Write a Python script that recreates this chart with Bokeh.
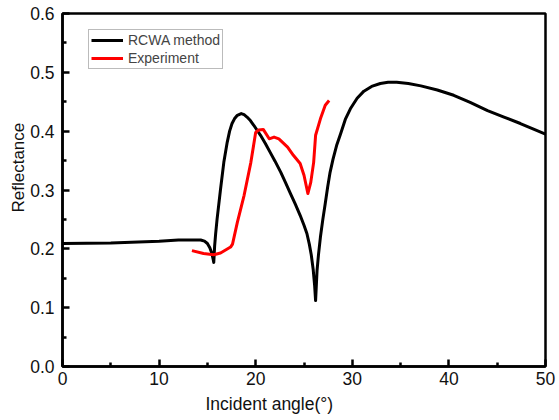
from bokeh.plotting import figure
from bokeh.models import (Legend, LegendItem, Title, FixedTicker,
                          PrintfTickFormatter, Range1d)
from bokeh.embed import file_html
from bokeh.resources import INLINE

# RCWA simulation: reflectance vs incident angle (degrees)
rcwa_angle = [0, 5, 10, 12, 14, 14.3, 14.7, 15.0, 15.25, 15.45, 15.6, 15.66,
              15.75, 15.85, 16.0, 16.35, 16.7, 17.05, 17.3, 17.55, 17.8, 18.1,
              18.5, 18.8, 19.1, 19.45, 19.8, 20.5, 21.0, 21.5, 22.0, 22.6,
              23.1, 23.6, 24.1, 24.6, 25.0, 25.3, 25.55, 25.75, 25.95, 26.1,
              26.2, 26.35, 26.5, 26.7, 26.95, 27.2, 27.45, 27.7, 28.0, 28.4,
              28.8, 29.3, 29.8, 30.5, 31.2, 32.0, 32.9, 33.7, 34.6, 35.8,
              37.1, 38.8, 40.5, 42.2, 44.0, 45.7, 47.4, 48.7, 50.0]
rcwa_refl = [0.209, 0.210, 0.213, 0.215, 0.215, 0.215, 0.213, 0.209, 0.202, 0.193, 0.182, 0.177,
             0.205, 0.225, 0.250, 0.300, 0.347, 0.381, 0.400, 0.413, 0.421, 0.427,
             0.430, 0.428, 0.424, 0.418, 0.410, 0.393, 0.379, 0.364, 0.349, 0.330,
             0.312, 0.294, 0.276, 0.257, 0.240, 0.226, 0.208, 0.190, 0.165, 0.138,
             0.112, 0.163, 0.190, 0.220, 0.250, 0.277, 0.305, 0.330, 0.352, 0.377,
             0.396, 0.421, 0.438, 0.456, 0.468, 0.476, 0.481, 0.483, 0.483, 0.481,
             0.477, 0.470, 0.461, 0.449, 0.435, 0.424, 0.413, 0.404, 0.395]

# Measured reflectance
exp_angle = [13.4, 14.6, 15.66, 16.36, 17.4, 17.6, 18.1, 18.8, 19.5, 20.0,
             20.3, 20.78, 21.4, 21.9, 22.4, 23.3, 23.9, 24.6, 25.0, 25.4,
             25.7, 26.0, 26.2, 26.7, 27.2, 27.6]
exp_refl = [0.197, 0.192, 0.190, 0.193, 0.203, 0.208, 0.245, 0.291, 0.347, 0.398,
            0.402, 0.403, 0.387, 0.390, 0.387, 0.373, 0.359, 0.345, 0.325, 0.294,
            0.313, 0.347, 0.393, 0.421, 0.444, 0.452]

x_ticks = [0, 10, 20, 30, 40, 50]
y_ticks = [0.0, 0.1, 0.2, 0.3, 0.4, 0.5, 0.6]

FONT = "Liberation Sans"
TEXT = "#111111"

p = figure(width=559, height=420,
           x_range=Range1d(0, 50), y_range=Range1d(0, 0.6),
           output_backend="svg", toolbar_location=None,
           min_border_left=62, min_border_right=14,
           min_border_top=13, min_border_bottom=54)
p.background_fill_color = "white"
p.border_fill_color = "white"
p.grid.visible = False
p.outline_line_color = "black"
p.outline_line_width = 2.5

for ax in (p.xaxis[0], p.yaxis[0]):
    ax.axis_line_width = 2.5
    ax.axis_line_color = "black"
    ax.major_tick_in = 7
    ax.major_tick_out = 0
    ax.minor_tick_in = 4
    ax.minor_tick_out = 0
    ax.major_tick_line_width = 2.5
    ax.minor_tick_line_width = 2.5
    ax.major_label_text_font = FONT
    ax.major_label_text_font_size = "17.5px"
    ax.major_label_text_color = TEXT

p.xaxis.ticker = FixedTicker(ticks=x_ticks, minor_ticks=[5, 15, 25, 35, 45])
p.yaxis.ticker = FixedTicker(ticks=y_ticks,
                             minor_ticks=[0.05, 0.15, 0.25, 0.35, 0.45, 0.55])
p.yaxis.formatter = PrintfTickFormatter(format="%.1f")
p.xaxis.major_label_standoff = 5
p.yaxis.major_label_standoff = 8

r_rcwa = p.line(rcwa_angle, rcwa_refl, line_color="black", line_width=3,
                line_join="round")
r_exp = p.line(exp_angle, exp_refl, line_color="#ff0000", line_width=3,
               line_join="round")

legend = Legend(items=[LegendItem(label="RCWA method", renderers=[r_rcwa]),
                       LegendItem(label="Experiment", renderers=[r_exp])],
                location=(26, 297))
legend.label_text_font = FONT
legend.label_text_font_size = "14px"
legend.label_height = 16
legend.glyph_height = 16
legend.glyph_width = 32
legend.label_standoff = 5
legend.spacing = 2
legend.padding = 2
legend.margin = 0
legend.border_line_color = "#777777"
legend.border_line_width = 1
legend.background_fill_alpha = 1.0
p.add_layout(legend)

# Axis titles, positioned along their axes
p.add_layout(Title(text="Incident angle(°)", text_font=FONT,
                   text_font_size="17.5px", text_font_style="normal",
                   text_color=TEXT, align="left", offset=143, standoff=9),
             "below")
p.add_layout(Title(text="Reflectance", text_font=FONT,
                   text_font_size="17px", text_font_style="normal",
                   text_color=TEXT, align="left", offset=154, standoff=0),
             "left")

open("out.html", "w").write(file_html(p, INLINE))
